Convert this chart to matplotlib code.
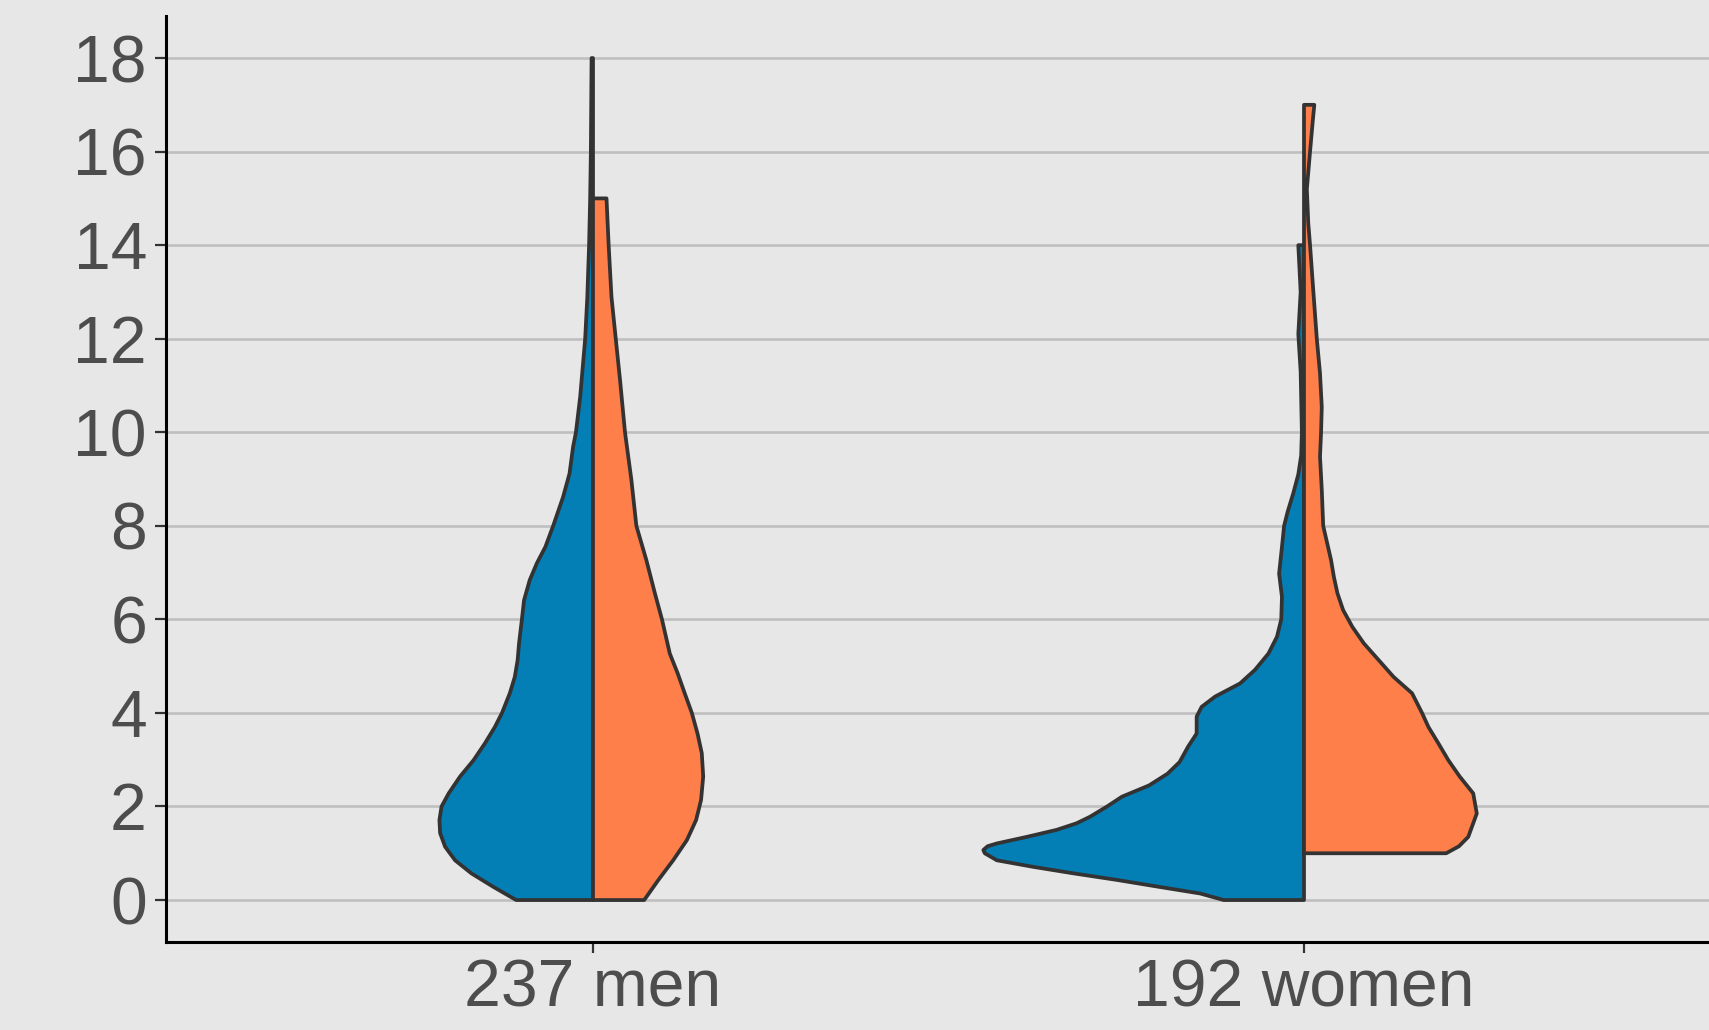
import matplotlib
matplotlib.use("Agg")
import matplotlib.pyplot as plt

# categories on the x axis
groups = ["237 men", "192 women"]
blue = "#037fb6"
orange = "#ff7f4a"

# half-widths of each violin half (x units)
men_left_y = [0, 0.28, 0.57, 0.85, 1.14, 1.43, 1.71, 2.0, 2.28, 2.64, 2.99, 3.35, 3.7, 4.0,
              4.42, 4.77, 5.13, 5.49, 6.0, 6.41, 6.84, 7.2, 7.55, 8.0, 8.62, 9.12, 9.69, 10.0,
              10.76, 11.47, 12.0, 12.89, 14.0, 15, 16, 17, 18]
men_left_w = [0.108, 0.140, 0.171, 0.194, 0.208, 0.215, 0.216, 0.213, 0.203, 0.187, 0.168,
              0.152, 0.138, 0.128, 0.117, 0.110, 0.106, 0.104, 0.100, 0.097, 0.089, 0.079,
              0.067, 0.056, 0.042, 0.033, 0.028, 0.024, 0.018, 0.014, 0.011, 0.008, 0.0055,
              0.004, 0.003, 0.0025, 0.002]

men_right_y = [0, 0.43, 0.855, 1.28, 1.71, 2.14, 2.64, 3.14, 3.56, 4.0, 4.42, 4.85, 5.27, 6.0,
               6.56, 7.27, 8.0, 8.98, 10.0, 11.12, 12.0, 12.89, 14.0, 15.0]
men_right_w = [0.072, 0.092, 0.113, 0.132, 0.145, 0.152, 0.155, 0.153, 0.147, 0.139, 0.129,
               0.119, 0.108, 0.097, 0.087, 0.075, 0.061, 0.054, 0.045, 0.038, 0.032, 0.026,
               0.022, 0.019]

women_left_y = [0, 0.14, 0.28, 0.43, 0.57, 0.71, 0.85, 1.0, 1.07, 1.15, 1.21, 1.35, 1.5, 1.64,
                1.78, 2.0, 2.21, 2.45, 2.7, 2.95, 3.28, 3.56, 3.92, 4.13, 4.35, 4.63, 4.92,
                5.27, 5.63, 6.0, 6.48, 6.98, 7.55, 8.0, 8.3, 8.7, 9.1, 9.5, 10.0, 11.3, 12.1,
                13.0, 14.0]
women_left_w = [0.113, 0.146, 0.203, 0.263, 0.324, 0.381, 0.432, 0.449, 0.451, 0.445, 0.432,
                0.390, 0.348, 0.320, 0.301, 0.277, 0.256, 0.218, 0.192, 0.175, 0.163, 0.151,
                0.151, 0.144, 0.125, 0.090, 0.069, 0.050, 0.038, 0.032, 0.031, 0.035, 0.031,
                0.028, 0.023, 0.015, 0.008, 0.004, 0.003, 0.0047, 0.008, 0.0047, 0.008]

women_right_y = [1.0, 1.15, 1.35, 1.85, 2.28, 2.64, 2.99, 3.35, 3.70, 4.0, 4.42, 4.77, 5.13,
                 5.49, 5.84, 6.2, 6.56, 6.91, 7.27, 8.0, 8.77, 9.48, 10.0, 10.54, 11.26, 12.0,
                 13.04, 14.0, 14.47, 15.2, 16.0, 16.6, 17.0]
women_right_w = [0.200, 0.218, 0.231, 0.243, 0.238, 0.219, 0.203, 0.189, 0.175, 0.166, 0.152,
                 0.126, 0.105, 0.084, 0.068, 0.055, 0.047, 0.042, 0.038, 0.027, 0.025, 0.0225,
                 0.024, 0.025, 0.0225, 0.018, 0.013, 0.0085, 0.006, 0.004, 0.0085, 0.012,
                 0.0145]

yticks = [0, 2, 4, 6, 8, 10, 12, 14, 16, 18]

plt.rcParams["font.family"] = ["Liberation Sans", "DejaVu Sans"]

bg = "#e7e7e8"
fig = plt.figure(figsize=(17.09, 10.30), dpi=100, facecolor=bg)
ax = fig.add_axes([166.4 / 1709, 0.0853, 1564.2 / 1709, 0.8992])
ax.set_facecolor(bg)


def half_violin(center, ys, ws, side, color):
    # polygon: outer curve, then back along the centre line
    xs = [center + side * w for w in ws]
    px = [center] + xs + [center]
    py = [ys[0]] + list(ys) + [ys[-1]]
    ax.fill(px, py, facecolor=color, edgecolor="#333333", linewidth=2.7,
            joinstyle="round", zorder=3)


half_violin(1, men_left_y, men_left_w, -1, blue)
half_violin(1, men_right_y, men_right_w, 1, orange)
half_violin(2, women_left_y, women_left_w, -1, blue)
half_violin(2, women_right_y, women_right_w, 1, orange)

ax.set_xlim(0.4, 2.6)
ax.set_ylim(-0.9, 18.9)
ax.set_yticks(yticks)
ax.set_xticks([1, 2])
ax.set_xticklabels(groups)
ax.yaxis.grid(True, color="#bfbfbf", linewidth=1.9, zorder=0)
ax.set_axisbelow(True)

for s in ["top", "right"]:
    ax.spines[s].set_visible(False)
for s in ["left", "bottom"]:
    ax.spines[s].set_color("black")
    ax.spines[s].set_linewidth(2.2)

ax.tick_params(axis="both", colors="#333333", length=8, width=1.6, labelsize=47.5,
               labelcolor="#4d4d4d")
ax.tick_params(axis="y", pad=6)
ax.tick_params(axis="x", pad=4)

fig.savefig("out.png", dpi=100, facecolor=bg)
